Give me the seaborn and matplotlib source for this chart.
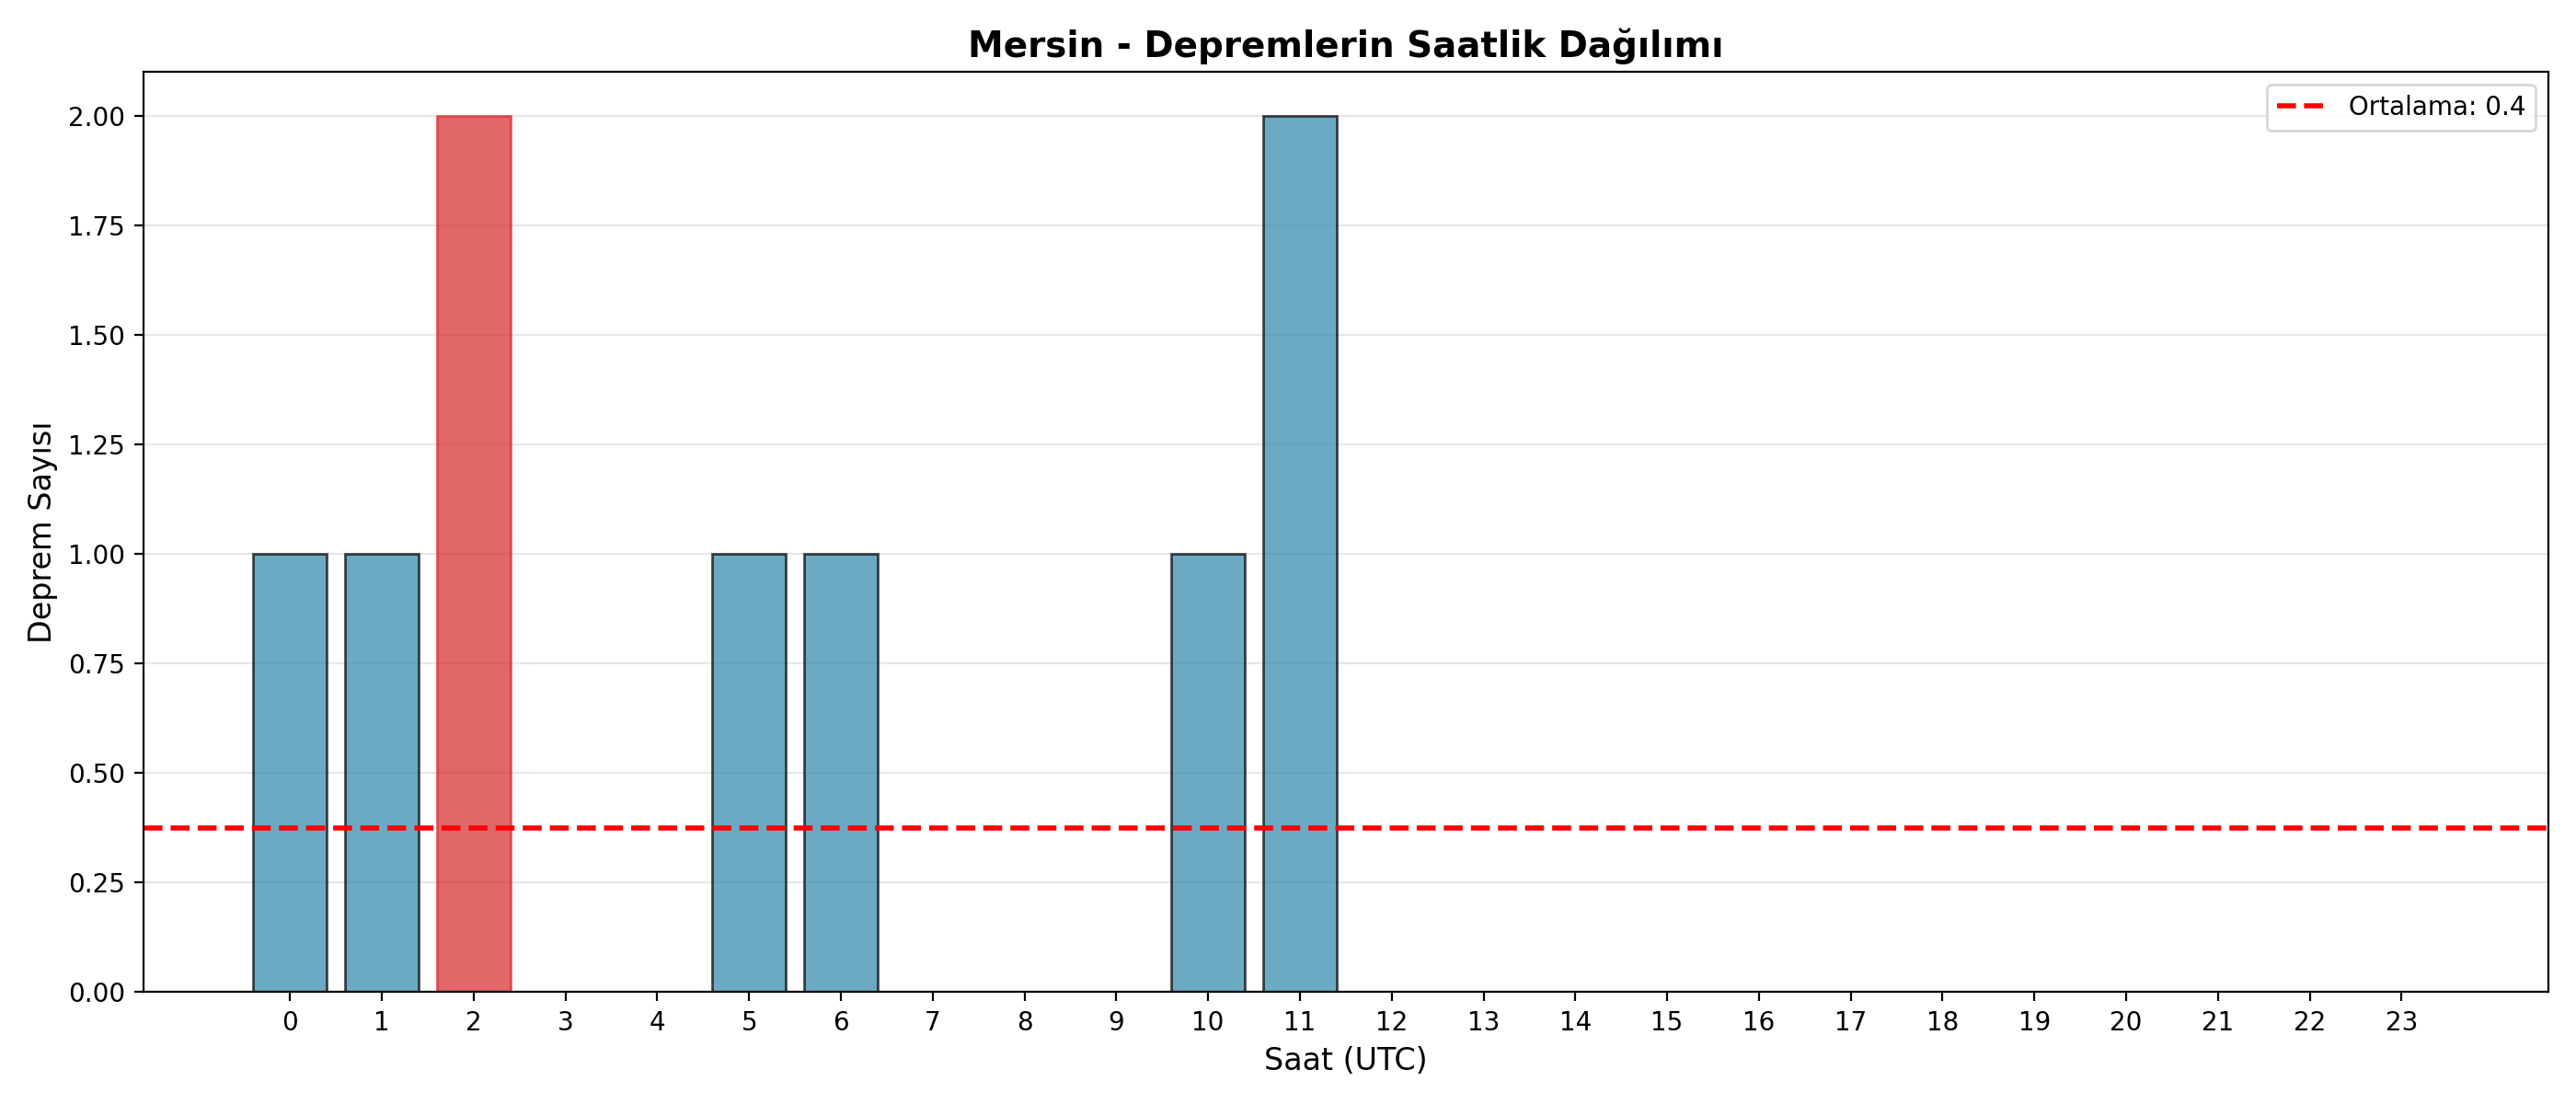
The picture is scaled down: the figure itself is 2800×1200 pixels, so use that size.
import numpy as np
import pandas as pd
import seaborn as sns
from matplotlib import pyplot as plt

# hourly counts
hours = list(range(24))
counts = [1, 1, 2, 0, 0, 1, 1, 0, 0, 0, 1, 2,
          0, 0, 0, 0, 0, 0, 0, 0, 0, 0, 0, 0]

def plot():
    df = pd.DataFrame({"Saat": hours, "Sayi": counts})
    mean_val = np.mean(counts)
    peak = int(np.argmax(counts))

    sns.set_style("ticks", rc={"text.color": "black", "axes.labelcolor": "black",
                               "xtick.color": "black", "ytick.color": "black",
                               "axes.edgecolor": "black", "grid.color": "#b0b0b0"})
    plt.rcParams["font.family"] = ["DejaVu Sans"]
    fig, ax = plt.subplots(figsize=(14, 6), dpi=200)

    sns.barplot(data=df, x="Saat", y="Sayi", color="#2E86AB",
                width=0.8, ax=ax, saturation=1)
    for i, p in enumerate(ax.patches):
        p.set_alpha(0.7)
        p.set_edgecolor("black")
        p.set_linewidth(1)
        if i == peak:
            p.set_color("#d62728")

    ax.axhline(mean_val, color="red", linestyle="--", linewidth=2,
               label=f"Ortalama: {mean_val:.1f}")

    ax.set_xlim(-1.6, 24.6)
    ax.set_ylim(0, 2.1)
    ax.set_yticks(np.arange(0, 2.01, 0.25))
    ax.yaxis.set_major_formatter(plt.FormatStrFormatter("%.2f"))
    ax.yaxis.grid(True, alpha=0.3, color="#b0b0b0")
    ax.set_axisbelow(True)
    for s in ax.spines.values():
        s.set_visible(True)
        s.set_color("black")

    ax.set_xlabel("Saat (UTC)", fontsize=12)
    ax.set_ylabel("Deprem Sayısı", fontsize=12)
    ax.set_title("Mersin - Depremlerin Saatlik Dağılımı", fontsize=14, fontweight="bold")
    ax.legend(loc="upper right")
    plt.tight_layout()
    plt.savefig("out.png", dpi=200)

if __name__ == "__main__":
    plot()
